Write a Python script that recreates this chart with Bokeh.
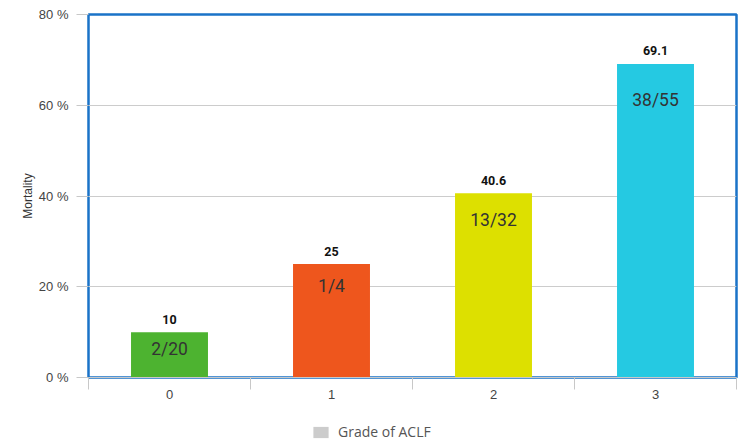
from bokeh.plotting import figure
from bokeh.layouts import column
from bokeh.models import ColumnDataSource, FixedTicker, Legend, LegendItem
from bokeh.core.properties import value
from bokeh.embed import file_html
from bokeh.resources import INLINE

grades = ["0", "1", "2", "3"]
mortality = [10, 25, 40.6, 69.1]
value_labels = ["10", "25", "40.6", "69.1"]
fractions = ["2/20", "1/4", "13/32", "38/55"]
colors = ["#4db330", "#ee561d", "#dde000", "#25c9e2"]
y_ticks = [0, 20, 40, 60, 80]
y_tick_labels = ["0 %", "20 %", "40 %", "60 %", "80 %"]
legend_label = "Grade of ACLF"

xpos = [i + 0.5 for i in range(len(grades))]
# inner label placed a little below each bar's top (layout rule, not data)
inner_y = [0.93 * t - 3 for t in mortality]
src = ColumnDataSource(dict(x=xpos, top=mortality, vl=value_labels, fr=fractions,
                            color=colors, iy=inner_y))

p = figure(width=750, height=420, output_backend="svg", toolbar_location=None,
           x_range=(0, 4), y_range=(0, 80),
           min_border_left=88, min_border_right=14, min_border_top=14, min_border_bottom=43)
p.outline_line_color = "#1a73c8"
p.outline_line_width = 2.5
p.background_fill_color = "white"
p.border_fill_color = "white"

p.vbar(x="x", top="top", width=0.475, bottom=0, fill_color="color", line_color=None, source=src)
p.text(x="x", y="top", text="vl", source=src, y_offset=-13, text_align="center", text_baseline="middle",
       text_font=value("Roboto"), text_font_style="bold", text_font_size="12.5px", text_color="#111111")
p.text(x="x", y="iy", text="fr", source=src, text_align="center", text_baseline="middle",
       text_font=value("Roboto"), text_font_size="17.5px", text_color="#333333")

# y axis
ya = p.yaxis[0]
ya.ticker = FixedTicker(ticks=y_ticks)
ya.major_label_overrides = {t: l for t, l in zip(y_ticks, y_tick_labels)}
ya.axis_line_color = None
ya.major_tick_out = 12
ya.major_tick_in = 0
ya.major_tick_line_color = "#c8c8c8"
ya.minor_tick_line_color = None
ya.major_label_standoff = 8
ya.major_label_text_font = "Liberation Sans"
ya.major_label_text_font_size = "13px"
ya.major_label_text_color = "#444444"
ya.axis_label = "Mortality"
ya.axis_label_text_font = "Liberation Sans"
ya.axis_label_text_font_size = "12px"
ya.axis_label_text_font_style = "normal"
ya.axis_label_text_color = "#333333"
ya.axis_label_standoff = 1

# x axis
xa = p.xaxis[0]
xa.ticker = FixedTicker(ticks=xpos, minor_ticks=[0, 1, 2, 3, 4])
xa.major_label_overrides = {x: g for x, g in zip(xpos, grades)}
xa.axis_line_color = "#c8c8c8"
xa.major_tick_out = 0
xa.major_tick_in = 0
xa.minor_tick_out = 12
xa.minor_tick_in = 0
xa.minor_tick_line_color = "#c8c8c8"
xa.major_label_standoff = 0
xa.major_label_text_font = "Liberation Sans"
xa.major_label_text_font_size = "13px"
xa.major_label_text_color = "#444444"

p.xgrid.grid_line_color = None
p.ygrid.grid_line_color = "#cccccc"
p.ygrid.grid_line_width = 1

# legend strip below the chart (dummy renderer kept outside its visible range)
lf = figure(width=750, height=21, output_backend="svg", toolbar_location=None,
            x_range=(0, 1), y_range=(0, 1), x_axis_location=None, y_axis_location=None,
            min_border=0)
lf.outline_line_color = None
lf.xgrid.grid_line_color = None
lf.ygrid.grid_line_color = None
dummy = lf.vbar(x=[5], top=[5], bottom=[4], width=0.1, fill_color="#cccccc", line_color=None)
legend = Legend(items=[LegendItem(label=legend_label, renderers=[dummy])],
                location=(223, 0), orientation="horizontal",
                padding=0, margin=0, spacing=0, glyph_width=19, glyph_height=14,
                label_standoff=8, border_line_color=None, background_fill_alpha=0,
                label_text_font="Open Sans", label_text_font_size="14px", label_text_color="#555555")
lf.add_layout(legend, "center")

layout = column(p, lf, spacing=0)
open("out.html", "w").write(file_html(layout, INLINE))
